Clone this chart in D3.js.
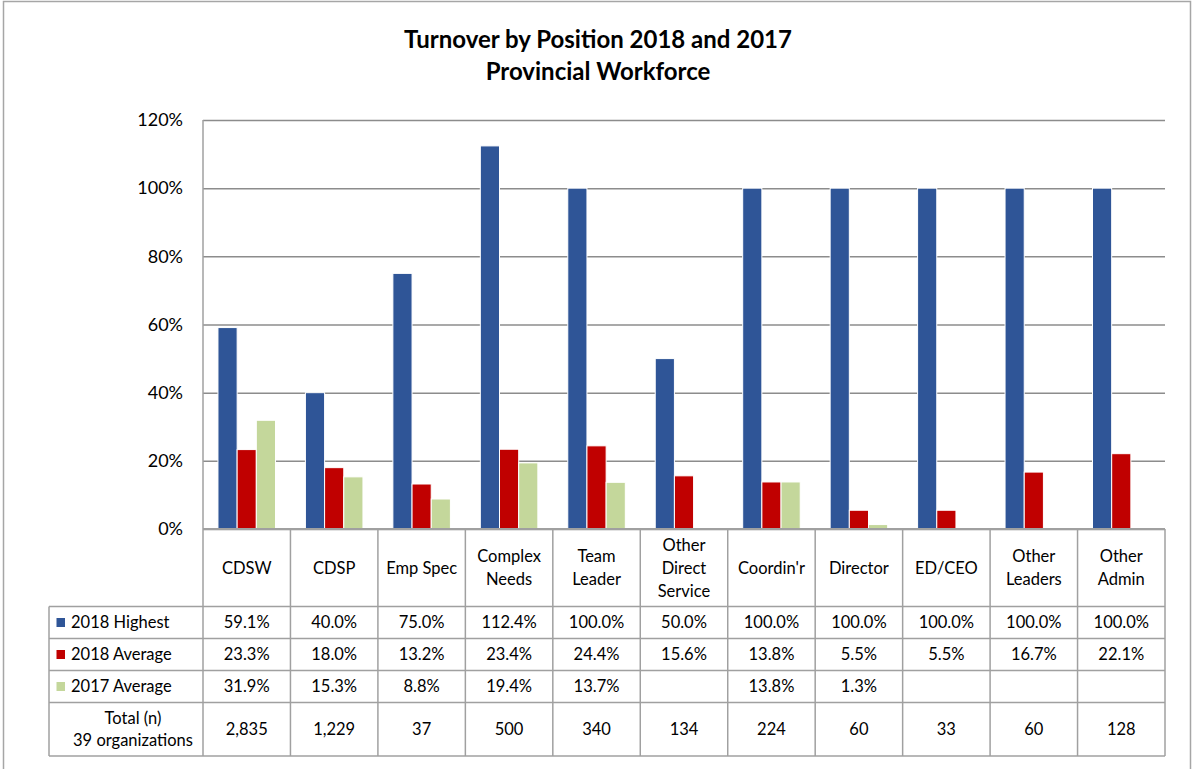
<!DOCTYPE html>
<html>
<head>
<meta charset="utf-8">
<script src="https://cdn.jsdelivr.net/npm/d3@7"></script>
<style>
  body { margin: 0; background: #fff; }
  svg { font-family: Lato, "Open Sans", sans-serif; }
</style>
</head>
<body>
<div id="chart"></div>
<script>
// Data
const categories = ["CDSW", "CDSP", "Emp Spec", "Complex\nNeeds", "Team\nLeader", "Other\nDirect\nService",
    "Coordin'r", "Director", "ED/CEO", "Other\nLeaders", "Other\nAdmin"];
const seriesNames = ["2018 Highest", "2018 Average", "2017 Average"];
const highest2018 = [59.1, 40.0, 75.0, 112.4, 100.0, 50.0, 100.0, 100.0, 100.0, 100.0, 100.0];
const average2018 = [23.3, 18.0, 13.2, 23.4, 24.4, 15.6, 13.8, 5.5, 5.5, 16.7, 22.1];
const average2017 = [31.9, 15.3, 8.8, 19.4, 13.7, null, 13.8, 1.3, null, null, null];
const totals = ["2,835", "1,229", "37", "500", "340", "134", "224", "60", "33", "60", "128"];
const yTicks = [0, 20, 40, 60, 80, 100, 120];
const colors = ["#2F5597", "#C00000", "#C4D79B"];

const series = [highest2018, average2018, average2017];

const width = 1193, height = 769;
const plot = { left: 203, right: 1165, top: 120, bottom: 529 };
const rowEdges = [529, 606.5, 638.5, 670.5, 702.5, 756];
const tableLeft = 49;
const fs = 16.5;

const svg = d3.select("#chart").append("svg")
    .attr("width", width)
    .attr("height", height);

// outer chart border
svg.append("rect")
    .attr("x", 3.5).attr("y", 1.5)
    .attr("width", 1187).attr("height", 790)
    .attr("fill", "none")
    .attr("stroke", "#a6a6a6")
    .attr("stroke-width", 1.5);

// title
svg.append("text")
    .attr("x", 598).attr("y", 48)
    .attr("text-anchor", "middle")
    .attr("font-size", 24).attr("font-weight", "bold")
    .text("Turnover by Position 2018 and 2017");
svg.append("text")
    .attr("x", 598).attr("y", 80)
    .attr("text-anchor", "middle")
    .attr("font-size", 24).attr("font-weight", "bold")
    .text("Provincial Workforce");

// scales
const x = d3.scaleBand()
    .domain(categories)
    .range([plot.left, plot.right])
    .paddingInner(0).paddingOuter(0);

const xSub = d3.scaleBand()
    .domain(d3.range(seriesNames.length))
    .range([0, x.bandwidth()])
    .paddingInner(0)
    .paddingOuter(0.78);

const y = d3.scaleLinear()
    .domain([0, 120])
    .range([plot.bottom, plot.top]);

// gridlines + y axis
const yAxis = d3.axisLeft(y)
    .tickValues(yTicks)
    .tickFormat(d => d + "%")
    .tickSize(-(plot.right - plot.left))
    .tickPadding(20);

const yAxisGroup = svg.append("g")
    .attr("transform", `translate(${plot.left},0)`)
    .call(yAxis);
yAxisGroup.select(".domain").remove();
yAxisGroup.selectAll(".tick line")
    .attr("stroke", "#8c8c8c")
    .attr("stroke-width", 1.5);
yAxisGroup.selectAll(".tick text")
    .attr("font-size", 18)
    .attr("fill", "#000")
    .attr("font-family", "Lato, sans-serif");

// left axis line
svg.append("line")
    .attr("x1", plot.left).attr("x2", plot.left)
    .attr("y1", plot.top).attr("y2", plot.bottom)
    .attr("stroke", "#a0a0a0").attr("stroke-width", 1.5);

// bars
const groups = svg.append("g").selectAll("g")
    .data(categories)
    .join("g")
    .attr("transform", d => `translate(${x(d)},0)`);

groups.selectAll("rect")
    .data((d, i) => series.map((s, k) => ({ k, v: s[i] })).filter(e => e.v != null))
    .join("rect")
    .attr("x", e => xSub(e.k))
    .attr("width", xSub.bandwidth())
    .attr("y", e => y(e.v))
    .attr("height", e => y(0) - y(e.v))
    .attr("fill", e => colors[e.k])
    .attr("stroke", "#fff")
    .attr("stroke-width", 1);

// data table
const table = svg.append("g");
const gridColor = "#a0a0a0";

// horizontal lines
table.append("line")
    .attr("x1", plot.left).attr("x2", plot.right)
    .attr("y1", rowEdges[0]).attr("y2", rowEdges[0])
    .attr("stroke", "#a0a0a0").attr("stroke-width", 2);
rowEdges.slice(1).forEach(yy => {
    table.append("line")
        .attr("x1", tableLeft).attr("x2", plot.right)
        .attr("y1", yy).attr("y2", yy)
        .attr("stroke", gridColor).attr("stroke-width", 1.5);
});

// vertical lines
const colEdges = categories.map(c => x(c)).concat([plot.right]);
colEdges.forEach(xx => {
    table.append("line")
        .attr("x1", xx).attr("x2", xx)
        .attr("y1", rowEdges[0]).attr("y2", rowEdges[5])
        .attr("stroke", gridColor).attr("stroke-width", 1.5);
});
table.append("line")
    .attr("x1", tableLeft).attr("x2", tableLeft)
    .attr("y1", rowEdges[1]).attr("y2", rowEdges[5])
    .attr("stroke", gridColor).attr("stroke-width", 1.5);

// header labels
categories.forEach(c => {
    const lines = c.split("\n");
    const cy = (rowEdges[0] + rowEdges[1]) / 2;
    const lh = 23;
    const t = table.append("text")
        .attr("text-anchor", "middle")
        .attr("font-size", fs);
    lines.forEach((ln, j) => {
        t.append("tspan")
            .attr("x", x(c) + x.bandwidth() / 2)
            .attr("y", cy + (j - (lines.length - 1) / 2) * lh)
            .attr("dy", "0.35em")
            .text(ln);
    });
});

// series rows
const fmt = v => v == null ? "" : v.toFixed(1) + "%";
series.forEach((s, k) => {
    const cy = (rowEdges[k + 1] + rowEdges[k + 2]) / 2;
    table.append("rect")
        .attr("x", 56.5).attr("y", cy - 4.5)
        .attr("width", 8.5).attr("height", 9)
        .attr("fill", colors[k]);
    table.append("text")
        .attr("x", 71).attr("y", cy).attr("dy", "0.35em")
        .attr("font-size", fs)
        .text(seriesNames[k]);
    categories.forEach((c, i) => {
        table.append("text")
            .attr("x", x(c) + x.bandwidth() / 2).attr("y", cy).attr("dy", "0.35em")
            .attr("text-anchor", "middle")
            .attr("font-size", fs)
            .text(fmt(s[i]));
    });
});

// totals row
const ty = (rowEdges[4] + rowEdges[5]) / 2;
table.append("text")
    .attr("x", 133).attr("y", ty - 11).attr("dy", "0.35em")
    .attr("text-anchor", "middle").attr("font-size", fs)
    .text("Total (n)");
table.append("text")
    .attr("x", 133).attr("y", ty + 11).attr("dy", "0.35em")
    .attr("text-anchor", "middle").attr("font-size", fs)
    .text("39 organizations");
categories.forEach((c, i) => {
    table.append("text")
        .attr("x", x(c) + x.bandwidth() / 2).attr("y", ty).attr("dy", "0.35em")
        .attr("text-anchor", "middle")
        .attr("font-size", fs)
        .text(totals[i]);
});
</script>
</body>
</html>
